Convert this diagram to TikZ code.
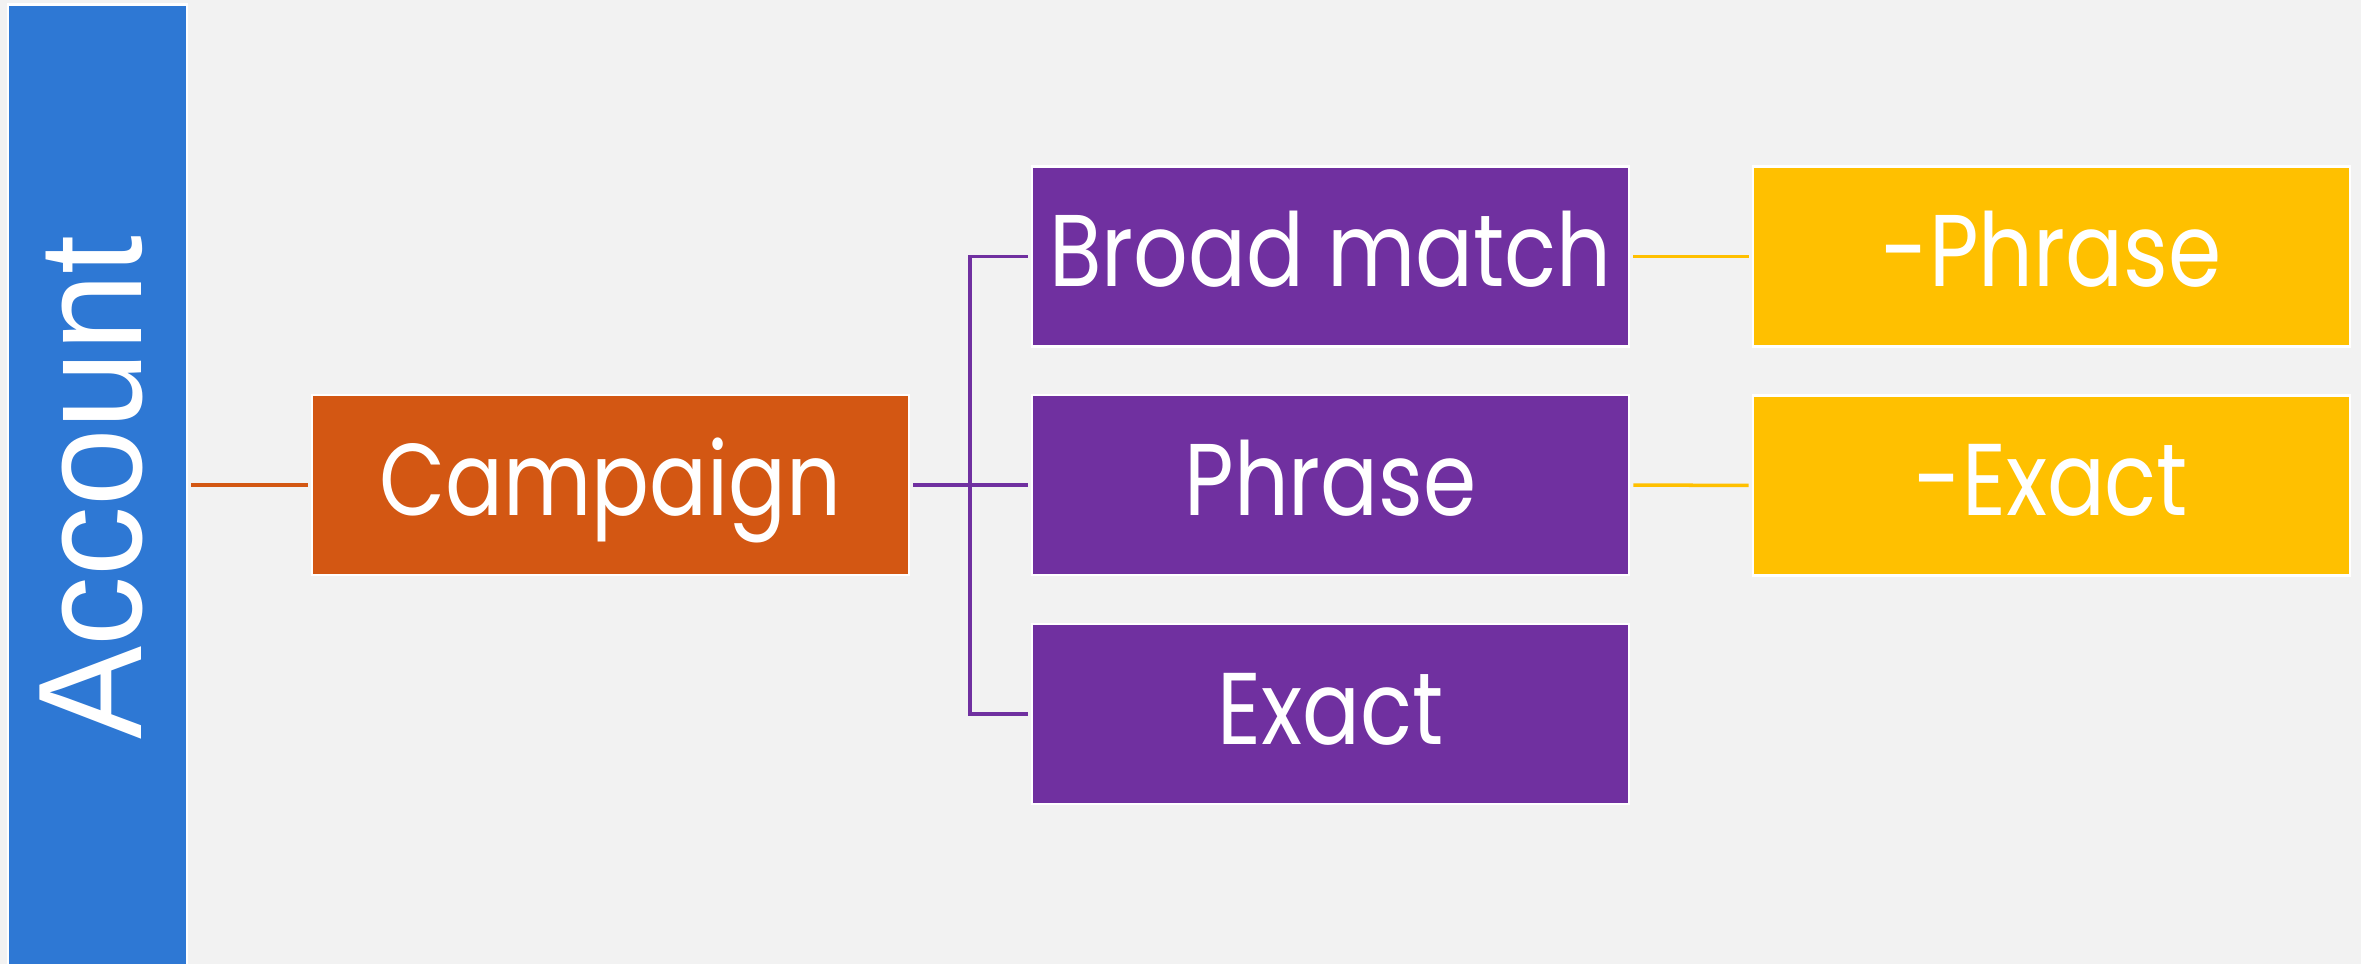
\documentclass[tikz,border=0pt]{standalone}
\usepackage{fontspec}
\newfontfamily\boxfont[FakeStretch=0.84]{Poppins}
\newfontfamily\barfont[FakeStretch=0.945]{Liberation Sans}
\definecolor{bg}{HTML}{F2F2F2}
\definecolor{accblue}{HTML}{2E78D4}
\definecolor{camporange}{HTML}{D35713}
\definecolor{matchpurple}{HTML}{7030A0}
\definecolor{negyellow}{HTML}{FFC000}
\begin{document}
\begin{tikzpicture}[x=0.01cm, y=-0.01cm,
  box/.style={draw=white, line width=0.7pt, minimum width=5.97cm,
    minimum height=1.8cm, inner sep=0pt, text=white,
    font=\boxfont\fontsize{29}{29}\selectfont,
    text height=0.8cm, text depth=0.2cm},
  conn/.style={line width=1pt, shorten <=0.03cm, shorten >=0.03cm}]
  % canvas
  \fill[bg] (0,0) rectangle (2361,964);
  \useasboundingbox (0,0) rectangle (2361,964);

  % account bar on the left
  \node[rotate=90, fill=accblue, draw=white, line width=0.7pt,
    minimum width=9.65cm, minimum height=1.79cm, inner sep=0pt,
    text=white, font=\barfont\fontsize{42}{42}\selectfont,
    text height=1.07cm, text depth=0.2cm] (acc) at (97.5,487.5) {Account};

  % campaign level
  \node[box, fill=camporange] (camp) at (610.5,485) {Campaign};

  % match types
  \node[box, fill=matchpurple] (bm) at (1330.5,256.5) {Broad match};
  \node[box, fill=matchpurple] (ph) at (1330.5,485) {Phrase};
  \node[box, fill=matchpurple] (ex) at (1330.5,714) {Exact};

  % negative keywords
  \node[box, fill=negyellow] (np) at (2051.5,256.5) {-Phrase};
  \node[box, fill=negyellow] (ne) at (2051.5,485.5) {-Exact};

  % connectors
  \coordinate (jx) at (970,485);
  \draw[conn, camporange] (acc.south |- camp.west) -- (camp.west);
  \draw[conn, matchpurple] (camp.east) -- (ph.west);
  \draw[conn, matchpurple] (bm.west) -| (jx) |- (ex.west);
  \draw[conn, negyellow] (bm.east) -- (np.west);
  \draw[conn, negyellow] (ph.east) -- (ne.west);
\end{tikzpicture}
\end{document}
